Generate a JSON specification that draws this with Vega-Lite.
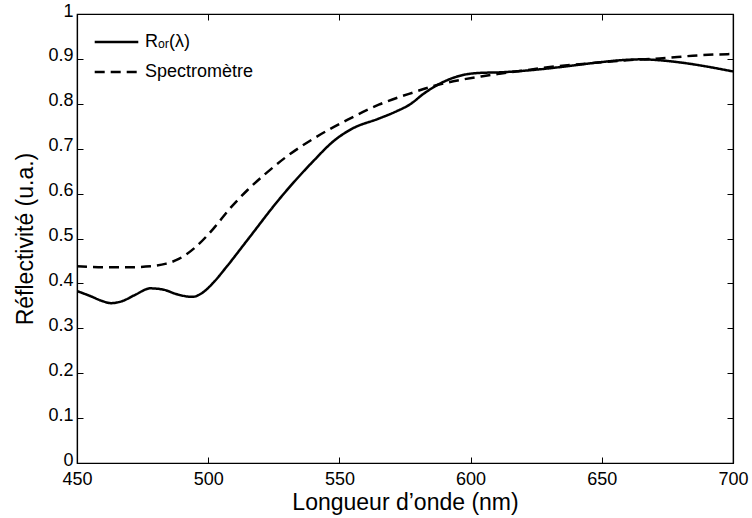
{
  "$schema": "https://vega.github.io/schema/vega-lite/v6.json",
  "width": 656,
  "height": 449,
  "autosize": {"type": "none"},
  "padding": {"left": 77, "top": 14, "right": 19, "bottom": 55},
  "background": "white",
  "config": {
    "view": {"stroke": "black", "strokeWidth": 1.2},
    "font": "Liberation Sans",
    "axis": {"grid": false, "domainColor": "black", "tickColor": "black", "labelColor": "black", "titleColor": "black", "labelFont": "Liberation Sans", "titleFont": "Liberation Sans", "labelFontSize": 18, "titleFontSize": 23, "titleFontWeight": "normal", "tickSize": -6, "domainWidth": 1.2, "tickWidth": 1}
  },
  "datasets": {
    "curves": [
      {"wl": 450, "r": 0.383, "s": "R_OR"}, {"wl": 455, "r": 0.372, "s": "R_OR"}, {"wl": 460, "r": 0.360, "s": "R_OR"}, {"wl": 463, "r": 0.356, "s": "R_OR"}, {"wl": 467, "r": 0.360, "s": "R_OR"}, {"wl": 472, "r": 0.374, "s": "R_OR"}, {"wl": 478, "r": 0.389, "s": "R_OR"}, {"wl": 483, "r": 0.386, "s": "R_OR"}, {"wl": 488, "r": 0.376, "s": "R_OR"}, {"wl": 494, "r": 0.370, "s": "R_OR"}, {"wl": 498, "r": 0.380, "s": "R_OR"}, {"wl": 502, "r": 0.402, "s": "R_OR"}, {"wl": 507, "r": 0.437, "s": "R_OR"}, {"wl": 515, "r": 0.497, "s": "R_OR"}, {"wl": 527, "r": 0.587, "s": "R_OR"}, {"wl": 540, "r": 0.672, "s": "R_OR"}, {"wl": 548, "r": 0.718, "s": "R_OR"}, {"wl": 555, "r": 0.745, "s": "R_OR"}, {"wl": 565, "r": 0.767, "s": "R_OR"}, {"wl": 572, "r": 0.784, "s": "R_OR"}, {"wl": 577, "r": 0.799, "s": "R_OR"}, {"wl": 582, "r": 0.822, "s": "R_OR"}, {"wl": 589, "r": 0.847, "s": "R_OR"}, {"wl": 597, "r": 0.864, "s": "R_OR"}, {"wl": 604, "r": 0.869, "s": "R_OR"}, {"wl": 611, "r": 0.870, "s": "R_OR"}, {"wl": 619, "r": 0.873, "s": "R_OR"}, {"wl": 630, "r": 0.879, "s": "R_OR"}, {"wl": 640, "r": 0.886, "s": "R_OR"}, {"wl": 650, "r": 0.893, "s": "R_OR"}, {"wl": 657, "r": 0.897, "s": "R_OR"}, {"wl": 665, "r": 0.899, "s": "R_OR"}, {"wl": 672, "r": 0.897, "s": "R_OR"}, {"wl": 680, "r": 0.892, "s": "R_OR"}, {"wl": 690, "r": 0.883, "s": "R_OR"}, {"wl": 700, "r": 0.872, "s": "R_OR"},
      {"wl": 450, "r": 0.438, "s": "Spectromètre"}, {"wl": 460, "r": 0.436, "s": "Spectromètre"}, {"wl": 470, "r": 0.436, "s": "Spectromètre"}, {"wl": 478, "r": 0.438, "s": "Spectromètre"}, {"wl": 484, "r": 0.444, "s": "Spectromètre"}, {"wl": 489, "r": 0.455, "s": "Spectromètre"}, {"wl": 495, "r": 0.480, "s": "Spectromètre"}, {"wl": 502, "r": 0.522, "s": "Spectromètre"}, {"wl": 508, "r": 0.565, "s": "Spectromètre"}, {"wl": 515, "r": 0.608, "s": "Spectromètre"}, {"wl": 522, "r": 0.645, "s": "Spectromètre"}, {"wl": 530, "r": 0.683, "s": "Spectromètre"}, {"wl": 540, "r": 0.722, "s": "Spectromètre"}, {"wl": 553, "r": 0.764, "s": "Spectromètre"}, {"wl": 565, "r": 0.798, "s": "Spectromètre"}, {"wl": 578, "r": 0.825, "s": "Spectromètre"}, {"wl": 588, "r": 0.843, "s": "Spectromètre"}, {"wl": 596, "r": 0.853, "s": "Spectromètre"}, {"wl": 604, "r": 0.861, "s": "Spectromètre"}, {"wl": 611, "r": 0.867, "s": "Spectromètre"}, {"wl": 620, "r": 0.874, "s": "Spectromètre"}, {"wl": 632, "r": 0.883, "s": "Spectromètre"}, {"wl": 645, "r": 0.890, "s": "Spectromètre"}, {"wl": 657, "r": 0.896, "s": "Spectromètre"}, {"wl": 672, "r": 0.901, "s": "Spectromètre"}, {"wl": 687, "r": 0.908, "s": "Spectromètre"}, {"wl": 700, "r": 0.911, "s": "Spectromètre"}
    ]
  },
  "data": {"name": "curves"},
  "layer": [
    {
      "mark": {"type": "line", "color": "black", "strokeWidth": 2.5, "interpolate": "monotone", "clip": true},
      "encoding": {
        "x": {"field": "wl", "type": "quantitative", "scale": {"domain": [450, 700], "nice": false, "zero": false},
          "axis": {"title": "Longueur d’onde (nm)", "values": [450, 500, 550, 600, 650, 700], "labelPadding": 13, "titlePadding": 3, "labelFlush": false}},
        "y": {"field": "r", "type": "quantitative", "scale": {"domain": [0, 1], "nice": false},
          "axis": {"title": "Réflectivité (u.a.)", "values": [0, 0.1, 0.2, 0.3, 0.4, 0.5, 0.6, 0.7, 0.8, 0.9, 1], "labelPadding": 10, "labelOffset": -3, "titlePadding": 10, "labelFlush": false, "labelExpr": "datum.value == 0 ? '0' : datum.value == 1 ? '1' : format(datum.value, '.1f')"}},
        "strokeDash": {"field": "s", "type": "nominal",
          "scale": {"domain": ["R_OR", "Spectromètre"], "range": [[1, 0], [10, 6]]},
          "legend": {"title": null, "orient": "none", "legendX": 16, "legendY": 16, "symbolType": "stroke", "symbolSize": 1900, "symbolStrokeWidth": 2.5, "symbolStrokeColor": "black", "labelFontSize": 18, "labelFont": "Liberation Sans", "labelColor": "black", "labelOffset": 5, "clipHeight": 24, "rowPadding": 6, "padding": 0,
            "labelExpr": "datum.value == 'R_OR' ? 'Rₒᵣ(λ)' : datum.value"}
        }
      }
    },
    {
      "mark": {"type": "line", "opacity": 0},
      "encoding": {
        "x": {"field": "wl", "type": "quantitative", "scale": {"domain": [450, 700], "nice": false, "zero": false},
          "axis": {"orient": "top", "title": null, "labels": false, "values": [450, 500, 550, 600, 650, 700]}},
        "y": {"field": "r", "type": "quantitative", "scale": {"domain": [0, 1], "nice": false},
          "axis": {"orient": "right", "title": null, "labels": false, "values": [0, 0.1, 0.2, 0.3, 0.4, 0.5, 0.6, 0.7, 0.8, 0.9, 1]}},
        "detail": {"field": "s", "type": "nominal"}
      }
    }
  ],
  "resolve": {"axis": {"x": "independent", "y": "independent"}}
}
